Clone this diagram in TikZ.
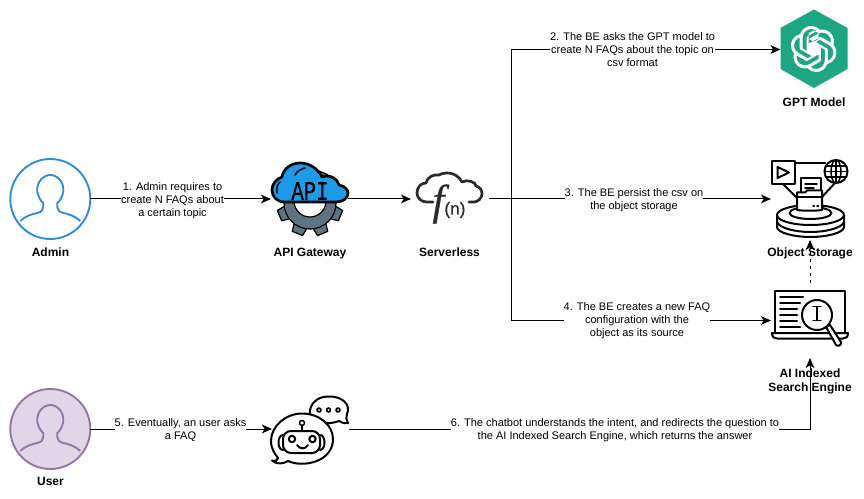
\documentclass[tikz,border=0pt]{standalone}
\usepackage{fontspec}
\usepackage{graphicx}
\setmainfont{Liberation Sans}
\newfontfamily\apifont[FakeBold=0.6]{Liberation Mono}
\newfontfamily\fnfont[FakeBold=0.5]{Liberation Serif}
\newfontfamily\fnsans[FakeBold=0.6]{Liberation Sans}
\usetikzlibrary{arrows.meta,calc,svg.path}
\definecolor{adminblue}{HTML}{2B8BDC}
\definecolor{userfill}{HTML}{E1D5E7}
\definecolor{userline}{HTML}{9673A6}
\definecolor{gptgreen}{HTML}{1DA584}
\definecolor{cloudblue}{HTML}{1E9BE8}
\definecolor{geargray}{HTML}{5F7482}
\definecolor{inkdark}{HTML}{2A2A2A}
\tikzset{
  x=0.75pt,y=-0.75pt,
  conn/.style={draw=black,line width=0.75pt,-{Stealth[length=7.5pt,width=6.5pt,inset=2pt]}},
  iconbox/.style={inner sep=0pt,outer sep=0pt,minimum width=#1},
  usercircle/.style={circle,inner sep=0pt,outer sep=0pt,minimum size=60pt,line width=1.4pt},
  steplabel/.style={fill=white,inner sep=0pt,align=center,font=\fontsize{8.25}{9.8}\selectfont},
  namelabel/.style={inner sep=0pt,align=center,font=\fontsize{9}{10.6}\selectfont\bfseries},
  icon/.style={draw=black,line width=1.5pt,line join=round,line cap=round},
  icont/.style={draw=black,line width=1.1pt,line join=round,line cap=round},
}
\newcommand{\personpath}[1]{
  \draw[#1,line width=1.4pt,line join=round]
    (-30,22) .. controls (-25,17) and (-18,15) .. (-13,14)
    .. controls (-9,13) and (-7,11) .. (-7,8) -- (-7,4)
    .. controls (-10,2) and (-12,-3) .. (-13,-7)
    .. controls (-14,-17) and (-7,-24) .. (0,-24)
    .. controls (7,-24) and (14,-17) .. (13,-7)
    .. controls (12,-3) and (10,2) .. (7,4) -- (7,8)
    .. controls (7,11) and (9,13) .. (13,14)
    .. controls (18,15) and (25,17) .. (30,22);
}
\begin{document}
\begin{tikzpicture}
\useasboundingbox (0,0) rectangle (864,499);
\fill[white] (0,0) rectangle (864,499);

% ---------- nodes for the icons
\node[usercircle,draw=adminblue,fill=white] (admin) at (50.3,199) {};
\node[usercircle,draw=userline,fill=userfill] (user) at (50.3,429) {};
\node[iconbox=57.75pt,minimum height=58pt] (api) at (309.5,199) {};
\node[iconbox=58.5pt,minimum height=58pt] (fn) at (450,199) {};
\node[iconbox=50.25pt,minimum height=59pt] (gpt) at (814,49.5) {};
\node[iconbox=58.5pt,minimum height=61.5pt] (storage) at (810,199) {};
\node[iconbox=58.5pt,minimum height=56.25pt] (search) at (810,320.5) {};
\node[iconbox=57.75pt,minimum height=58pt] (bot) at (310.5,429) {};
\coordinate (split) at (511,199);

% ---------- people
\begin{scope}[shift={(50.3,199)}]\personpath{draw=adminblue}\end{scope}
\begin{scope}[shift={(50.3,429)}]\personpath{draw=userline}\end{scope}

% ---------- API gateway
\begin{scope}[shift={(310,203)}]
  \foreach \a in {22.5,67.5,...,359} {
    \begin{scope}[rotate=\a]
      \filldraw[fill=geargray,draw=black,line width=0.9pt,line join=round] (-7,-24) -- (-5.5,-33) -- (5.5,-33) -- (7,-24) -- cycle;
    \end{scope}
  }
  \filldraw[fill=geargray,draw=black,line width=0.9pt] (0,0) circle (26);
  \fill[geargray] (0,0) circle (25);
  \filldraw[fill=white,draw=black,line width=0.9pt] (0,-2) circle (16);
\end{scope}
\filldraw[fill=cloudblue,draw=black,line width=2pt,line join=round]
  (285,202) .. controls (277,202) and (272,197) .. (272,190)
  .. controls (272,184) and (276,179) .. (282,177)
  .. controls (283,169) and (291,163) .. (300,163)
  .. controls (310,163) and (318,169) .. (322,177)
  .. controls (330,174) and (338,179) .. (339,185)
  .. controls (345,186) and (348,190) .. (348,193)
  .. controls (348,198) and (343,202) .. (336,202) -- cycle;
\draw[black,line width=1.2pt,line cap=round] (277,193) .. controls (276,187) and (278,184) .. (280,182);
\draw[black,line width=1.2pt,line cap=round] (295,175) .. controls (297,171) and (301,169) .. (305,168);
\node[inner sep=0pt] (apitext) at (310,191) {\scalebox{1}[1.3]{\apifont\fontsize{15.5}{15.5}\selectfont API}};

% ---------- serverless
\draw[draw=inkdark,line width=2pt,line cap=round,line join=round]
  (433,202) -- (427,202) .. controls (421,202) and (417,198) .. (417,193)
  .. controls (417,187) and (421,183) .. (426,183)
  .. controls (427,177) and (434,174) .. (439,175)
  .. controls (444,172) and (456,171) .. (462,182)
  .. controls (467,179) and (476,182) .. (476,186)
  .. controls (480,187) and (482,190) .. (482,194)
  .. controls (482,198) and (478,202) .. (474,202) -- (469,202);
\node[inner sep=0pt,text=inkdark] (fntext) at (449,204) {\fnfont\itshape\fontsize{32}{32}\selectfont f\fnsans\upshape\fontsize{13}{13}\selectfont(n)};

% ---------- GPT
\fill[gptgreen] (814,9.5) -- (847.5,28) -- (847.5,69) -- (814,88) -- (780.5,69) -- (780.5,28) -- cycle;
\begin{scope}[shift={(813.7,49)},scale=1.44,yscale=-1,xshift=-12pt,yshift=-12pt]
  \fill[white] svg {M22.2819 9.8211a5.9847 5.9847 0 0 0-.5157-4.9108 6.0462 6.0462 0 0 0-6.5098-2.9A6.0651 6.0651 0 0 0 4.9807 4.1818a5.9847 5.9847 0 0 0-3.9977 2.9 6.0462 6.0462 0 0 0 .7427 7.0966 5.98 5.98 0 0 0 .511 4.9107 6.051 6.051 0 0 0 6.5146 2.9001A5.9847 5.9847 0 0 0 13.2599 24a6.0557 6.0557 0 0 0 5.7718-4.2058 5.9894 5.9894 0 0 0 3.9977-2.9001 6.0557 6.0557 0 0 0-.7475-7.0729zm-9.022 12.6081a4.4755 4.4755 0 0 1-2.8764-1.0408l.1419-.0804 4.7783-2.7582a.7948.7948 0 0 0 .3927-.6813v-6.7369l2.02 1.1686a.071.071 0 0 1 .038.052v5.5826a4.504 4.504 0 0 1-4.4945 4.4944zm-9.6607-4.1254a4.4708 4.4708 0 0 1-.5346-3.0137l.142.0852 4.783 2.7582a.7712.7712 0 0 0 .7806 0l5.8428-3.3685v2.3324a.0804.0804 0 0 1-.0332.0615L9.74 19.9502a4.4992 4.4992 0 0 1-6.1408-1.6464zM2.3408 7.8956a4.485 4.485 0 0 1 2.3655-1.9728V11.6a.7664.7664 0 0 0 .3879.6765l5.8144 3.3543-2.0201 1.1685a.0757.0757 0 0 1-.071 0l-4.8303-2.7865A4.504 4.504 0 0 1 2.3408 7.872zm16.5963 3.8558L13.1038 8.364 15.1192 7.2a.0757.0757 0 0 1 .071 0l4.8303 2.7913a4.4944 4.4944 0 0 1-.6765 8.1042v-5.6772a.79.79 0 0 0-.407-.667zm2.0107-3.0231l-.142-.0852-4.7735-2.7818a.7759.7759 0 0 0-.7854 0L9.409 9.2297V6.8974a.0662.0662 0 0 1 .0284-.0615l4.8303-2.7866a4.4992 4.4992 0 0 1 6.6802 4.66zM8.3065 12.863l-2.02-1.1638a.0804.0804 0 0 1-.038-.0567V6.0742a4.4992 4.4992 0 0 1 7.3757-3.4537l-.142.0805L8.704 5.459a.7948.7948 0 0 0-.3927.6813zm1.0976-2.3654l2.602-1.4998 2.6069 1.4998v2.9994l-2.5974 1.4997-2.6067-1.4997Z};
\end{scope}

% ---------- object storage
\filldraw[icon,fill=white] (777,215) -- (777,227) .. controls (777,233) and (795,237) .. (810.5,237) .. controls (826,237) and (844,233) .. (844,227) -- (844,215) -- cycle;
\filldraw[icon,fill=white] (810.5,215) ellipse (33.5 and 10);
\draw[icon] (777,222) .. controls (779,228) and (795,232) .. (810.5,232) .. controls (826,232) and (842,228) .. (844,222);
\draw[icon] (810.5,213) ellipse (21 and 6);
\filldraw[icon,fill=white] (772,161.5) rectangle (795,184);
\draw[icon] (777.5,167) -- (777.5,178) -- (789,172.5) -- cycle;
\draw[icon] (795,163) -- (825,163);
\filldraw[icon,fill=white] (836,171.5) circle (11.5);
\draw[icont] (836,171.5) ellipse (5 and 11.5);
\draw[icont] (836,160) -- (836,183);
\draw[icont] (824.5,171.5) -- (847.5,171.5);
\draw[icont] (826,166) -- (846,166);
\draw[icont] (826,177) -- (846,177);
\draw[icon] (783,184) -- (797,198);
\draw[icon] (835,183) -- (822,197);
\filldraw[icon,fill=white] (801,178) rectangle (821,195);
\draw[icont] (805,184) -- (817,184); \draw[icont] (805,188) -- (814,188);
\filldraw[icon,fill=white] (797,192.5) -- (805,192.5) -- (807,190.5) -- (822,190.5) -- (822,210) .. controls (815,211) and (804,211) .. (797,210) -- cycle;
\draw[icon] (797,197) -- (822,197);
\draw[icont] (813,206) -- (814.5,206); \draw[icont] (817,206) -- (818.5,206);

% ---------- search engine
\draw[icon] (775,333) -- (775,291) -- (845,291) -- (845,333);
\filldraw[icon,fill=white] (772,333) -- (848,333) .. controls (848,337) and (846,338.5) .. (843,338.5) -- (777,338.5) .. controls (774,338.5) and (772,337) .. (772,333) -- cycle;
\foreach \yy/\xx in {297/803,303/800,309/797,315/797,321/797,327/800} {
  \draw[icon] (780,\yy) -- (\xx,\yy);
}
\filldraw[icon,fill=white] (817,315) circle (15);
\draw[icont] (813,306.5) -- (821,306.5);\draw[icont] (813,320.5) -- (821,320.5);\draw[icont] (817,306.5) -- (817,320.5);
\filldraw[icon,fill=white] (826,327) -- (830,325) -- (841,342) .. controls (842,345) and (838,347) .. (836,345) -- cycle;

% ---------- chatbot
\filldraw[icon,fill=white] (314,420) .. controls (306,416) and (309,397) .. (328,396.5)
  .. controls (343,396) and (351,405) .. (347,414) .. controls (346,417) and (346,419) .. (348,423)
  .. controls (344,424) and (341,422) .. (339,421) .. controls (331,424) and (322,424) .. (314,420) -- cycle;
\foreach \xx in {319,328.5,338} { \fill (\xx,410) circle (2.8); \fill[white] (\xx,410) circle (1.0); }
\filldraw[icon,fill=white] (302,413.5) .. controls (286,413.5) and (271,426) .. (271,441)
  .. controls (271,449) and (275,454) .. (278,458) .. controls (278,460) and (275,462) .. (272,460.5)
  .. controls (277,465.5) and (285,463) .. (288,461) .. controls (303,468) and (333,462) .. (333,439)
  .. controls (333,425) and (319,413.5) .. (302,413.5) -- cycle;
\draw[icon] (302,425) -- (302,431);
\draw[icont] (302,423) circle (2.5);
\draw[icon,rounded corners=6pt] (283,431) rectangle (320,453);
\draw[icon] (283,435) .. controls (277,435) and (277,450) .. (283,450);
\draw[icon] (320,435) .. controls (326,435) and (326,450) .. (320,450);
\draw[icon] (292,439) circle (3.2);
\draw[icon] (312.5,439) circle (3.2);
\draw[icon] (297,445) .. controls (300,449.5) and (305,449.5) .. (308,445);

% ---------- connectors
\draw[conn] (admin.east) -- (api.west);
\draw[conn] (api.east) -- (fn.west);
\draw[conn] (fn.east) -- (storage.west);
\draw[conn] (split) |- (gpt.west);
\draw[conn] (split) |- (search.west);
\draw[conn,dash pattern=on 2.6pt off 2.6pt] (search.north) -- (storage.south);
\draw[conn] (user.east) -- (bot.west);
\draw[conn] (bot.east) -| ($(search.south)+(0,0)$);

% ---------- step labels
\node[steplabel] (l1) at (172.5,201) {1. Admin requires to\\create N FAQs about\\a certain topic};
\node[steplabel] (l2) at (632.5,50) {2. The BE asks the GPT model to\\create N FAQs about the topic on\\csv format};
\node[steplabel] (l3) at (634,200) {3. The BE persist the csv on\\the object storage};
\node[steplabel] (l4) at (637,321) {4. The BE creates a new FAQ\\configuration with the\\object as its source};
\node[steplabel] (l5) at (180.5,430) {5. Eventually, an user asks\\a FAQ};
\node[steplabel] (l6) at (615,430) {6. The chatbot understands the intent, and redirects the question to\\the AI Indexed Search Engine, which returns the answer};

% ---------- names
\node[namelabel] (n1) at (50.5,252) {Admin};
\node[namelabel] (n2) at (310,253.5) {API Gateway};
\node[namelabel] (n3) at (449.5,252) {Serverless};
\node[namelabel] (n4) at (814,102) {GPT Model};
\node[namelabel] (n5) at (810,253) {Object Storage};
\node[namelabel] (n6) at (810,381) {AI Indexed\\Search Engine};
\node[namelabel] (n7) at (50.5,481) {User};
\end{tikzpicture}
\end{document}
